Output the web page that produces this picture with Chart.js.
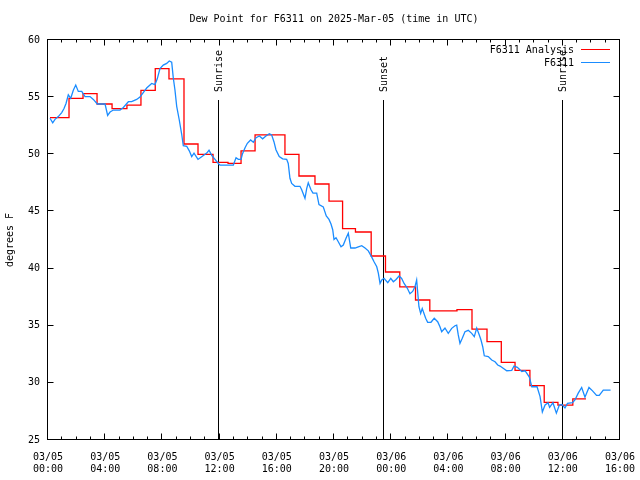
<!DOCTYPE html>
<html><head><meta charset="utf-8">
<script src="https://cdn.jsdelivr.net/npm/chart.js@4.4.1/dist/chart.umd.min.js"></script>
<style>html,body{margin:0;padding:0;background:#fff}</style>
</head><body>
<canvas id="c" width="640" height="480"></canvas>
<script>
const titleText = 'Dew Point for F6311 on 2025-Mar-05 (time in UTC)';
const yAxisLabel = 'degrees F';
const seriesNames = ['F6311 Analysis', 'F6311'];
const seriesColors = ['#ff0000', '#1a8cff'];
// x tick labels every 4 hours from 03/05 00:00 (hours since start)
const xTickLabels = [
  ['03/05','00:00'],['03/05','04:00'],['03/05','08:00'],['03/05','12:00'],
  ['03/05','16:00'],['03/05','20:00'],['03/06','00:00'],['03/06','04:00'],
  ['03/06','08:00'],['03/06','12:00'],['03/06','16:00']
];
const yTickValues = [25, 30, 35, 40, 45, 50, 55, 60];
// Analysis (step) series: hour where each level starts, and its value
const analysisHours = [0.14,1.47,2.45,3.43,4.48,5.52,6.5,7.5,8.46,9.51,10.49,11.54,12.59,13.5,14.48,16.57,17.55,18.67,19.65,20.6,21.5,22.6,23.6,24.6,25.7,26.7,28.6,29.65,30.7,31.7,32.66,33.7,34.7,35.66,36.7,37.62];
const analysisValues = [53.2,54.9,55.3,54.4,54.0,54.3,55.6,57.5,56.6,50.9,50.0,49.3,49.2,50.3,51.7,50.0,48.1,47.4,45.9,43.5,43.2,41.1,39.7,38.4,37.25,36.3,36.4,34.7,33.6,31.8,31.1,29.75,28.3,28.05,28.6,28.6];
// Observed series
const obsHours = [0.14,0.33,0.49,0.72,0.96,1.12,1.26,1.42,1.59,1.77,
1.94,2.12,2.36,2.59,2.94,3.17,3.45,3.99,4.17,4.34,
4.57,5.03,5.27,5.62,5.85,6.20,6.43,6.90,7.25,7.48,
7.64,7.83,8.06,8.30,8.48,8.65,8.76,8.88,9.00,9.18,
9.35,9.46,9.70,9.88,10.05,10.21,10.49,10.77,11.10,11.26,
11.45,11.68,11.94,12.03,12.96,13.15,13.31,13.50,13.59,13.78,
13.94,14.17,14.36,14.55,14.78,15.01,15.24,15.48,15.64,15.80,
15.94,16.17,16.41,16.69,16.80,16.92,17.04,17.27,17.62,17.74,
17.97,18.09,18.20,18.39,18.53,18.79,18.95,19.25,19.46,19.65,
19.79,19.91,20.00,20.14,20.30,20.49,20.65,20.84,21.00,21.17,
21.47,21.70,21.94,22.17,22.40,22.64,22.80,22.99,23.10,23.22,
23.34,23.50,23.76,23.97,24.15,24.34,24.55,24.73,24.90,25.13,
25.31,25.50,25.66,25.78,25.85,25.94,26.06,26.17,26.41,26.55,
26.78,27.01,27.25,27.41,27.53,27.76,27.99,28.23,28.46,28.58,
28.69,28.81,28.97,29.16,29.39,29.63,29.81,29.98,30.16,30.28,
30.40,30.51,30.79,31.03,31.26,31.45,31.61,32.08,32.43,32.59,
32.82,33.13,33.36,33.66,33.83,34.20,34.41,34.57,34.76,34.97,
35.08,35.31,35.55,35.76,35.94,36.15,36.33,36.68,36.85,37.08,
37.32,37.55,37.83,38.08,38.36,38.55,38.83,39.34];
const obsValues = [53.15,52.76,53.06,53.3,53.65,54.0,54.45,55.2,54.9,55.6,
56.06,55.5,55.5,55.05,55.05,54.8,54.4,54.4,53.4,53.7,
53.87,53.87,54.1,54.6,54.6,54.8,55.0,55.8,56.2,56.1,
56.6,57.5,57.8,57.95,58.16,58.05,56.7,55.6,54.2,53.0,
51.75,50.75,50.7,50.3,49.8,50.1,49.55,49.8,50.1,50.35,
49.9,49.55,49.15,49.06,49.06,49.7,49.56,49.56,50.0,50.57,
50.96,51.25,51.05,51.45,51.6,51.35,51.6,51.8,51.7,51.1,
50.4,49.8,49.6,49.56,49.2,47.9,47.45,47.2,47.2,46.9,
46.15,47.0,47.5,46.9,46.6,46.6,45.6,45.4,44.6,44.3,
43.9,43.4,42.55,42.7,42.35,41.9,42.06,42.65,43.1,41.8,
41.8,41.9,42.0,41.8,41.55,41.0,40.6,40.16,39.6,38.7,
39.0,39.15,38.76,39.14,38.85,39.05,39.35,39.14,38.7,38.27,
37.8,38.0,38.4,39.0,37.97,36.66,36.08,36.5,35.65,35.3,
35.3,35.65,35.35,34.9,34.47,34.8,34.33,34.77,35.0,35.05,
34.19,33.46,33.9,34.47,34.6,34.33,34.04,34.8,34.19,33.75,
33.16,32.37,32.3,32.0,31.85,31.56,31.47,31.06,31.1,31.47,
31.36,31.0,31.06,30.5,29.66,29.66,28.8,27.45,28.06,28.26,
27.85,28.26,27.35,28.06,28.1,27.8,28.2,28.26,28.5,29.1,
29.6,28.75,29.6,29.3,28.9,28.9,29.37,29.37];
const sunEventHours = [11.98, 23.52, 36.03];
const sunEventNames = ['Sunrise', 'Sunset', 'Sunrise'];

const FONT = 'DejaVu Sans Mono';
const fontSpec = {family: FONT, size: 10, lineHeight: 1.2};
const cssFont = '10px "' + FONT + '"';

const gnuplotLook = {
  id: 'gnuplotLook',
  beforeDatasetsDraw(chart) {
    const {ctx, chartArea: a, scales: {x}} = chart;
    ctx.save();
    ctx.strokeStyle = '#000'; ctx.fillStyle = '#000'; ctx.lineWidth = 1;
    ctx.font = cssFont;
    sunEventHours.forEach((h, i) => {
      const px = Math.round(x.getPixelForValue(h)) - 0.5;
      ctx.beginPath(); ctx.moveTo(px, a.top + 60); ctx.lineTo(px, a.bottom); ctx.stroke();
      ctx.save();
      ctx.translate(px + 0.5, a.top + 52);
      ctx.rotate(-Math.PI / 2);
      ctx.textAlign = 'left'; ctx.textBaseline = 'middle';
      ctx.fillText(sunEventNames[i], 0, 0);
      ctx.restore();
    });
    ctx.restore();
  },
  afterDraw(chart) {
    const {ctx, chartArea: a, scales: {x, y}} = chart;
    ctx.save();
    ctx.strokeStyle = '#000'; ctx.fillStyle = '#000'; ctx.lineWidth = 1;
    const L = a.left - 0.5, R = a.right - 0.5, T = a.top - 0.5, B = a.bottom - 0.5;
    ctx.strokeRect(L, T, R - L, B - T);
    ctx.beginPath();
    for (let h = 0; h <= 40; h++) {
      const px = Math.round(x.getPixelForValue(h)) - 0.5;
      const len = (h % 4 === 0) ? 6 : 3;
      ctx.moveTo(px, B); ctx.lineTo(px, B - len);
      ctx.moveTo(px, T); ctx.lineTo(px, T + len);
    }
    yTickValues.forEach(v => {
      const py = Math.round(y.getPixelForValue(v)) - 0.5;
      ctx.moveTo(L, py); ctx.lineTo(L + 6, py);
      ctx.moveTo(R, py); ctx.lineTo(R - 6, py);
    });
    ctx.stroke();
    // title
    ctx.font = cssFont;
    ctx.textAlign = 'center'; ctx.textBaseline = 'middle';
    ctx.fillText(titleText, (a.left + a.right) / 2, 19);
    // legend
    ctx.textAlign = 'right';
    seriesNames.forEach((n, i) => {
      const ly = a.top + 10 + i * 13;
      ctx.fillStyle = '#000';
      ctx.fillText(n, a.right - 46, ly);
      ctx.strokeStyle = seriesColors[i];
      ctx.beginPath(); ctx.moveTo(a.right - 39, ly - 0.5); ctx.lineTo(a.right - 10, ly - 0.5); ctx.stroke();
    });
    ctx.restore();
  }
};

new Chart(document.getElementById('c'), {
  type: 'line',
  data: {
    datasets: [
      {
        label: seriesNames[1],
        data: obsHours.map((h, i) => ({x: h, y: obsValues[i]})),
        borderColor: seriesColors[1], borderWidth: 1.3, pointRadius: 0, tension: 0, fill: false, order: 0
      },
      {
        label: seriesNames[0],
        data: analysisHours.map((h, i) => ({x: h, y: analysisValues[i]})),
        borderColor: seriesColors[0], borderWidth: 1.3, pointRadius: 0, stepped: 'before', fill: false, order: 1
      }
    ]
  },
  options: {
    responsive: false, animation: false, devicePixelRatio: 1,
    layout: {padding: {top: 40, right: 20, left: 0, bottom: 0}},
    plugins: {legend: {display: false}, title: {display: false}, tooltip: {enabled: false}},
    scales: {
      x: {
        type: 'linear', min: 0, max: 40,
        border: {display: false},
        grid: {display: false, drawTicks: false},
        ticks: {stepSize: 4, autoSkip: false, maxRotation: 0, padding: 11, color: '#000', font: fontSpec,
          callback: (v, i) => xTickLabels[i]},
        afterFit: s => { s.height = 40; s.paddingLeft = 0; s.paddingRight = 0; }
      },
      y: {
        min: 25, max: 60,
        border: {display: false},
        grid: {display: false, drawTicks: false},
        ticks: {stepSize: 5, padding: 8, color: '#000', font: fontSpec},
        title: {display: true, text: yAxisLabel, color: '#000', font: fontSpec, padding: {top: 4, bottom: 0}},
        afterFit: s => { s.width = 48; s.paddingTop = 0; s.paddingBottom = 0; }
      }
    }
  },
  plugins: [gnuplotLook]
});
</script>
</body></html>
